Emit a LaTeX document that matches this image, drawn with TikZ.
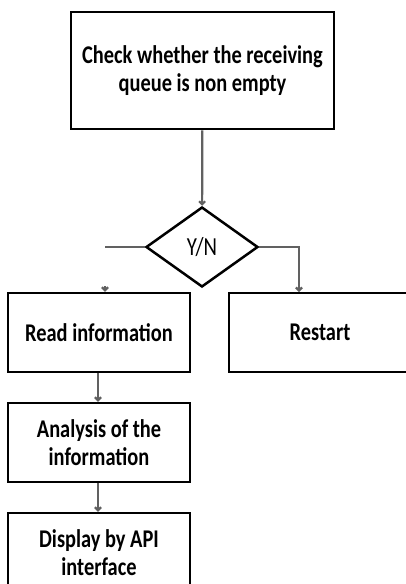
\documentclass[tikz,border=0pt]{standalone}
\usepackage{fontspec}
\setmainfont{Carlito}
\newfontfamily\flowfont[FakeStretch=0.8]{Carlito}
\usetikzlibrary{shapes.geometric,arrows.meta}
\begin{document}
\begin{tikzpicture}[x=1pt,y=-1pt,
    box/.style={draw,line width=2.5pt,minimum width=182pt,minimum height=79pt,
      inner sep=0pt,align=center,font=\flowfont\bfseries\fontsize{25.5}{28}\selectfont},
    flow/.style={draw=black!62,line width=2.2pt},
    tip/.style={-{Straight Barb[length=3pt,width=6pt]}}]
    \useasboundingbox (0,0) rectangle (406,584);
    \clip (0,0) rectangle (406,584);
    % boxes
    \node[box,minimum width=263pt,minimum height=117pt] (check) at (202.5,70.5)
      {Check whether the receiving\\queue is non empty};
    \node[draw,diamond,line width=2.5pt,minimum width=112pt,minimum height=80pt,
      inner sep=0pt,aspect=1.4,font=\flowfont\fontsize{26}{28}\selectfont] (yn) at (202,247) {Y/N};
    \node[box] (read) at (99,332.5) {Read information};
    \node[box] (restart) at (320,332.5) {Restart};
    \node[box] (analysis) at (99,442.5) {Analysis of the\\information};
    \node[box] (display) at (99,552.5) {Display by API\\interface};
    % connectors
    \coordinate (lend) at (105,247);
    \coordinate (lstub) at (105,286);
    \coordinate (rin) at (299,292);
    \draw[flow,tip] (check) -- (yn);
    \draw[flow] (yn.west) -- (lend);
    \draw[flow,tip] (lstub) -- (lstub |- read.north);
    \draw[flow,tip] (yn.east) -| (rin);
    \draw[flow,tip] (read.south -| 98,0) -- (analysis.north -| 98,0);
    \draw[flow,tip] (analysis.south -| 98,0) -- (display.north -| 98,0);
\end{tikzpicture}
\end{document}
